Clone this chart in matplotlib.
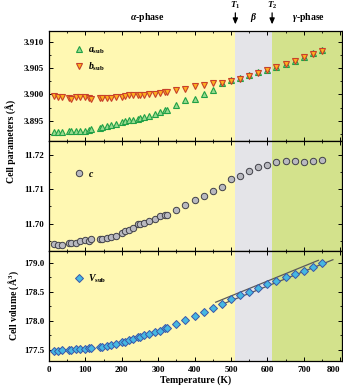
import matplotlib
matplotlib.use("Agg")
import matplotlib.pyplot as plt
from matplotlib.ticker import MultipleLocator, FormatStrFormatter

# ---------------- data ----------------
T = [15, 25, 35, 55, 60, 75, 85, 100, 110, 115, 140, 145, 160, 170, 185, 200, 210,
     220, 230, 245, 250, 260, 275, 290, 305, 320, 325,
     350, 375, 400, 425, 450, 475, 500, 525, 550, 575, 600, 625, 650, 675, 700, 725, 750]

a_sub = [3.8929, 3.8929, 3.8929, 3.8931, 3.8931, 3.8931, 3.8930, 3.8930, 3.8932, 3.8935,
         3.8937, 3.8939, 3.8940, 3.8942, 3.8944, 3.8947, 3.8949, 3.8951, 3.8952, 3.8954,
         3.8955, 3.8957, 3.8960, 3.8964, 3.8966, 3.8970, 3.8971,
         3.8980, 3.8990, 3.8992, 3.9001, 3.9009, 3.9021, 3.9027, 3.9031, 3.9037, 3.9042,
         3.9047, 3.9052, 3.9058, 3.9064, 3.9071, 3.9078, 3.9084]

b_sub = [3.8997, 3.8996, 3.8996, 3.8993, 3.8992, 3.8996, 3.8996, 3.8996, 3.8994, 3.8992,
         3.8994, 3.8994, 3.8994, 3.8994, 3.8996, 3.8996, 3.8997, 3.8999, 3.8999, 3.8999,
         3.8999, 3.8999, 3.9000, 3.9001, 3.9003, 3.9004, 3.9005,
         3.9009, 3.9010, 3.9016, 3.9017, 3.9021, 3.9022, 3.9025, 3.9030, 3.9035, 3.9040,
         3.9046, 3.9051, 3.9057, 3.9063, 3.9070, 3.9077, 3.9083]

c_par = [11.6940, 11.6938, 11.6938, 11.6943, 11.6943, 11.6944, 11.6948, 11.6952, 11.6950,
         11.6954, 11.6955, 11.6955, 11.6957, 11.6962, 11.6965, 11.6973, 11.6978, 11.6981,
         11.6988, 11.6998, 11.6999, 11.7003, 11.7009, 11.7012, 11.7021, 11.7026, 11.7025,
         11.7041, 11.7054, 11.7070, 11.7081, 11.7094, 11.7108, 11.7130, 11.7140, 11.7154,
         11.7166, 11.7172, 11.7179, 11.7184, 11.7182, 11.7181, 11.7182, 11.7186]

V_sub = [177.49, 177.49, 177.50, 177.50, 177.50, 177.51, 177.52, 177.52, 177.53, 177.54,
         177.55, 177.55, 177.57, 177.59, 177.61, 177.63, 177.64, 177.67, 177.69, 177.72,
         177.73, 177.75, 177.78, 177.80, 177.83, 177.87, 177.88,
         177.95, 178.02, 178.08, 178.15, 178.22, 178.29, 178.38, 178.44, 178.50, 178.57,
         178.64, 178.69, 178.75, 178.81, 178.86, 178.93, 178.99]

# linear fits drawn in the volume panel (end points)
fit1_T = [458, 740]
fit1_V = [178.32, 179.04]
fit2_T = [470, 780]
fit2_V = [178.27, 179.05]

T1 = 512
T2 = 613
x_ticks = [0, 100, 200, 300, 400, 500, 600, 700, 800]

# ---------------- style ----------------
plt.rcParams['font.family'] = ['Liberation Serif', 'DejaVu Serif']
plt.rcParams['font.weight'] = 'bold'
plt.rcParams['mathtext.fontset'] = 'custom'
plt.rcParams['mathtext.rm'] = 'Liberation Serif:bold'
plt.rcParams['mathtext.it'] = 'Liberation Serif:italic:bold'
plt.rcParams['mathtext.bf'] = 'Liberation Serif:bold'

C_YEL = '#FFF8B2'
C_GRY = '#E4E4E8'
C_GRN = '#D3E28C'

fig = plt.figure(figsize=(3.43, 3.89), dpi=100)
left, right = 49 / 343, 342 / 343
top, bot = 1 - 31 / 389, 1 - 361 / 389
h = (top - bot) / 3
axes = [fig.add_axes([left, top - (i + 1) * h, right - left, h]) for i in range(3)]

for ax in axes:
    ax.set_xlim(0, 805)
    ax.axvspan(0, T1, color=C_YEL, zorder=0, lw=0)
    ax.axvspan(T1, T2, color=C_GRY, zorder=0, lw=0)
    ax.axvspan(T2, 805, color=C_GRN, zorder=0, lw=0)
    ax.set_xticks(x_ticks)
    ax.xaxis.set_minor_locator(MultipleLocator(50))
    ax.tick_params(which='both', direction='in', top=True, right=True, labelsize=6.5)
    ax.tick_params(which='major', length=3, width=0.7)
    ax.tick_params(which='minor', length=1.6, width=0.6)
    for s in ax.spines.values():
        s.set_linewidth(0.9)
    if ax is not axes[2]:
        ax.tick_params(labelbottom=False)

ms = 4.6
ax1, ax2, ax3 = axes
ax1.plot(T, a_sub, ls='none', marker='^', ms=ms, mfc='#9ADB8E', mec='#1FA046', mew=0.8,
         label=r'$a_{\rm sub}$', zorder=3)
ax1.plot(T, b_sub, ls='none', marker='v', ms=ms, mfc='#FFB21E', mec='#C8402A', mew=0.8,
         label=r'$b_{\rm sub}$', zorder=4)
ax1.set_ylim(3.8912, 3.9120)
ax1.yaxis.set_major_locator(MultipleLocator(0.005))
ax1.yaxis.set_minor_locator(MultipleLocator(0.0025))
ax1.yaxis.set_major_formatter(FormatStrFormatter('%.3f'))

ax2.plot(T, c_par, ls='none', marker='o', ms=ms, mfc='#B9B9C0', mec='#404048', mew=0.7,
         label=r'$c$', zorder=3)
ax2.set_ylim(11.6920, 11.7241)
ax2.yaxis.set_major_locator(MultipleLocator(0.01))
ax2.yaxis.set_minor_locator(MultipleLocator(0.005))
ax2.yaxis.set_major_formatter(FormatStrFormatter('%.2f'))

ax3.plot(fit1_T, fit1_V, color='#5A5A5A', lw=0.9, zorder=2)
ax3.plot(fit2_T, fit2_V, color='#5A5A5A', lw=0.9, zorder=2)
ax3.plot(T, V_sub, ls='none', marker='D', ms=ms - 0.6, mfc='#45B8E2', mec='#3A56A8', mew=0.7,
         label=r'$V_{\rm sub}$', zorder=3)
ax3.set_ylim(177.31, 179.20)
ax3.yaxis.set_major_locator(MultipleLocator(0.5))
ax3.yaxis.set_minor_locator(MultipleLocator(0.25))
ax3.yaxis.set_major_formatter(FormatStrFormatter('%.1f'))
ax3.set_xlabel('Temperature (K)', fontsize=7, fontweight='bold', labelpad=1)
fig.canvas.draw()
last = ax3.get_xticklabels()[-1]
last.set_horizontalalignment('right')

leg_kw = dict(frameon=False, fontsize=7, handletextpad=0.3, borderaxespad=0.3,
              handlelength=1.2, labelspacing=0.45, loc='upper left',
              bbox_to_anchor=(0.06, 0.93))
ax1.legend(**leg_kw)
ax2.legend(**dict(leg_kw, bbox_to_anchor=(0.06, 0.80)))
ax3.legend(**dict(leg_kw, bbox_to_anchor=(0.06, 0.87)))

fig.text(0.018, top - h, 'Cell parameters (Å)', rotation=90, va='center', ha='left',
         fontsize=7, fontweight='bold')
fig.text(0.018, bot + h / 2, 'Cell volume (Å$^3$)', rotation=90, va='center', ha='left',
         fontsize=7, fontweight='bold')

# phase annotations above top panel
tr = ax1.get_xaxis_transform()
ax1.text(270, 1.12, r'$\alpha$-phase', transform=tr, ha='center', va='center', fontsize=7)
ax1.text(562, 1.12, r'$\beta$', transform=tr, ha='center', va='center', fontsize=7)
ax1.text(712, 1.12, r'$\gamma$-phase', transform=tr, ha='center', va='center', fontsize=7)
for tx, lab in [(T1, r'$T_1$'), (T2, r'$T_2$')]:
    ax1.annotate('', xy=(tx, 1.035), xytext=(tx, 1.19), xycoords=tr, textcoords=tr,
                 arrowprops=dict(arrowstyle='-|>,head_width=0.15,head_length=0.35',
                                 color='black', lw=0.9), annotation_clip=False)
    ax1.text(tx, 1.235, lab, transform=tr, ha='center', va='center', fontsize=6.5)

fig.savefig('out.png', dpi=100)
